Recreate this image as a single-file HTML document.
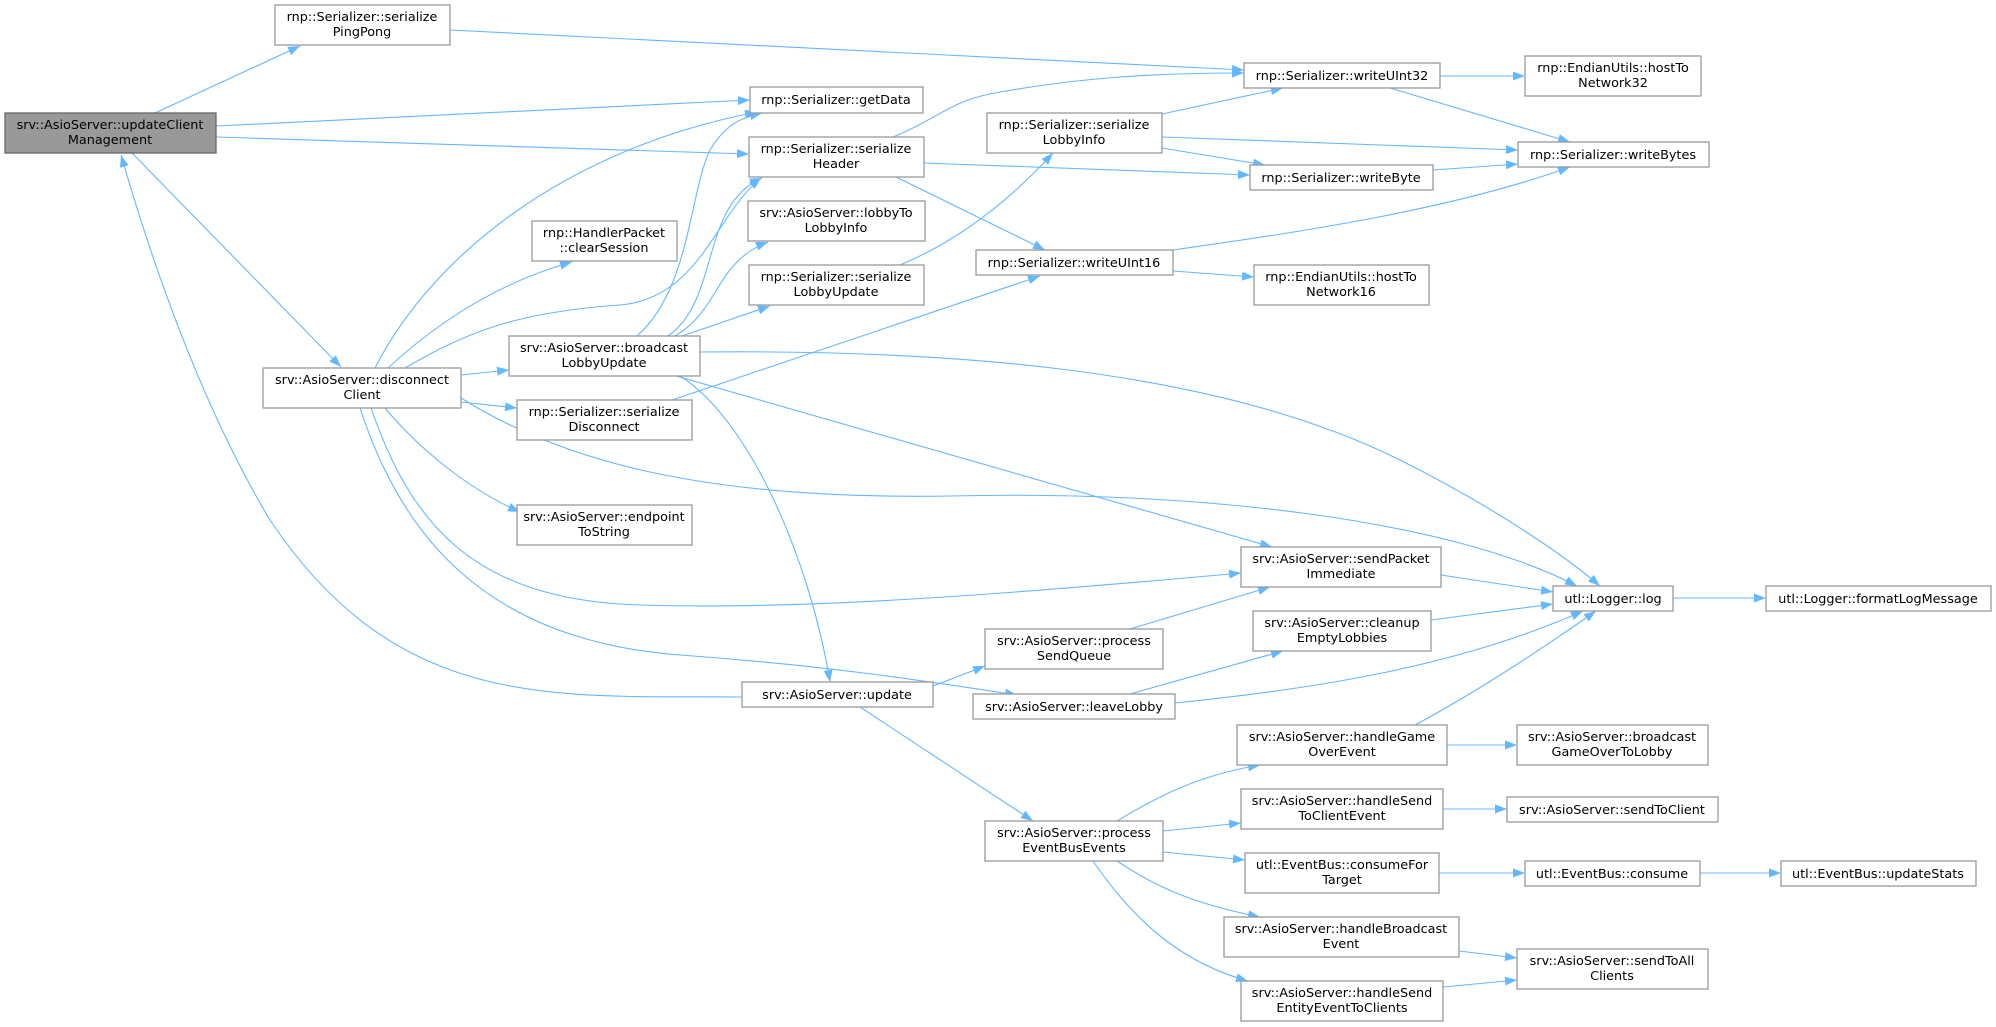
<!DOCTYPE html>
<html><head><meta charset="utf-8"><style>
html,body{margin:0;padding:0;background:#fff;}
svg{display:block;}
text{font-family:"DejaVu Sans","Liberation Sans",sans-serif;font-size:12.8px;fill:#000;}
.n{fill:#fff;stroke:#999;stroke-width:1.3;}
.g{fill:#999;stroke:#666;stroke-width:1.3;}
.e{fill:none;stroke:#63b8ff;stroke-width:1.1;}
</style></head><body>
<svg width="1996" height="1027" viewBox="0 0 1996 1027" xmlns="http://www.w3.org/2000/svg">
<defs><marker id="a" markerUnits="userSpaceOnUse" markerWidth="13" markerHeight="10" refX="12" refY="4.5" orient="auto"><path d="M0,0 L12,4.5 L0,9 z" fill="#63b8ff"/></marker></defs>
<g class="e" marker-end="url(#a)">
<path d="M155,113 L300,46"/>
<path d="M216,126 L750,100"/>
<path d="M216,137 L749,154"/>
<path d="M132,153 L341,367"/>
<path d="M742,697 C560,695 400,715 270,520 C210,420 160,290 121,155"/>
<path d="M375,368 C430,260 560,150 757,112"/>
<path d="M388,368 C440,320 500,282 572,262"/>
<path d="M405,368 C470,330 520,312 620,305 C700,298 715,215 761,178"/>
<path d="M461,375 L509,370"/>
<path d="M461,402 L517,408"/>
<path d="M385,408 C420,450 470,490 520,512"/>
<path d="M371,408 C410,520 470,600 640,605 C800,610 1000,595 1241,573"/>
<path d="M360,408 C400,530 480,640 680,655 C820,665 920,680 1017,695"/>
<path d="M461,398 C560,460 700,500 950,496 C1200,490 1450,520 1577,586"/>
<path d="M637,336 C690,290 690,190 710,150 C725,125 740,118 762,113"/>
<path d="M668,336 C720,300 700,205 762,178"/>
<path d="M675,336 C720,310 715,262 768,242"/>
<path d="M682,336 L770,306"/>
<path d="M672,400 L1040,276"/>
<path d="M700,352 C900,350 1200,360 1400,460 C1500,510 1570,560 1600,586"/>
<path d="M676,376 L1272,547"/>
<path d="M680,376 C750,420 810,560 830,682"/>
<path d="M893,137 C940,118 950,100 1000,92 C1080,78 1150,73 1244,73"/>
<path d="M924,163 L1250,175"/>
<path d="M896,177 L1045,250"/>
<path d="M900,265 C960,240 1010,200 1053,153"/>
<path d="M450,30 L1244,70"/>
<path d="M1162,114 L1283,88"/>
<path d="M1162,137 L1518,150"/>
<path d="M1162,148 L1265,165"/>
<path d="M1440,76 L1525,76"/>
<path d="M1390,88 L1570,142"/>
<path d="M1433,170 L1518,164"/>
<path d="M1173,250 C1300,232 1450,210 1570,167"/>
<path d="M1173,271 L1254,277"/>
<path d="M1441,575 L1553,592"/>
<path d="M1431,620 L1553,604"/>
<path d="M1673,598 L1766,598"/>
<path d="M1130,629 L1270,587"/>
<path d="M933,686 L985,666"/>
<path d="M860,707 L1033,821"/>
<path d="M1130,694 L1283,651"/>
<path d="M1175,703 C1300,690 1450,670 1583,611"/>
<path d="M1415,725 C1480,690 1540,650 1596,611"/>
<path d="M1447,745 L1517,745"/>
<path d="M1443,809 L1507,809"/>
<path d="M1117,821 C1160,795 1200,775 1260,765"/>
<path d="M1163,831 L1241,823"/>
<path d="M1163,852 L1245,860"/>
<path d="M1117,861 C1160,890 1200,905 1260,917"/>
<path d="M1093,861 C1140,930 1190,965 1248,981"/>
<path d="M1439,873 L1525,873"/>
<path d="M1700,873 L1781,873"/>
<path d="M1459,951 L1517,958"/>
<path d="M1443,987 L1517,980"/>
</g>
<g text-anchor="middle">
<rect class="g" x="5" y="113" width="211" height="40"/><text x="110" y="129">srv::AsioServer::updateClient</text><text x="110" y="144">Management</text>
<rect class="n" x="275" y="5" width="175" height="40"/><text x="362" y="21">rnp::Serializer::serialize</text><text x="362" y="36">PingPong</text>
<rect class="n" x="750" y="87" width="173" height="26"/><text x="836" y="104">rnp::Serializer::getData</text>
<rect class="n" x="749" y="137" width="175" height="40"/><text x="836" y="153">rnp::Serializer::serialize</text><text x="836" y="168">Header</text>
<rect class="n" x="532" y="221" width="145" height="40"/><text x="604" y="237">rnp::HandlerPacket</text><text x="604" y="252">::clearSession</text>
<rect class="n" x="263" y="368" width="198" height="40"/><text x="362" y="384">srv::AsioServer::disconnect</text><text x="362" y="399">Client</text>
<rect class="n" x="509" y="336" width="191" height="40"/><text x="604" y="352">srv::AsioServer::broadcast</text><text x="604" y="367">LobbyUpdate</text>
<rect class="n" x="748" y="201" width="177" height="40"/><text x="836" y="217">srv::AsioServer::lobbyTo</text><text x="836" y="232">LobbyInfo</text>
<rect class="n" x="749" y="265" width="175" height="40"/><text x="836" y="281">rnp::Serializer::serialize</text><text x="836" y="296">LobbyUpdate</text>
<rect class="n" x="517" y="400" width="175" height="40"/><text x="604" y="416">rnp::Serializer::serialize</text><text x="604" y="431">Disconnect</text>
<rect class="n" x="517" y="505" width="175" height="40"/><text x="604" y="521">srv::AsioServer::endpoint</text><text x="604" y="536">ToString</text>
<rect class="n" x="987" y="113" width="175" height="40"/><text x="1074" y="129">rnp::Serializer::serialize</text><text x="1074" y="144">LobbyInfo</text>
<rect class="n" x="976" y="250" width="197" height="25"/><text x="1074" y="267">rnp::Serializer::writeUInt16</text>
<rect class="n" x="1244" y="63" width="196" height="25"/><text x="1342" y="80">rnp::Serializer::writeUInt32</text>
<rect class="n" x="1525" y="56" width="176" height="40"/><text x="1613" y="72">rnp::EndianUtils::hostTo</text><text x="1613" y="87">Network32</text>
<rect class="n" x="1518" y="142" width="191" height="25"/><text x="1613" y="159">rnp::Serializer::writeBytes</text>
<rect class="n" x="1250" y="165" width="183" height="25"/><text x="1341" y="182">rnp::Serializer::writeByte</text>
<rect class="n" x="1254" y="265" width="175" height="40"/><text x="1341" y="281">rnp::EndianUtils::hostTo</text><text x="1341" y="296">Network16</text>
<rect class="n" x="1241" y="547" width="200" height="40"/><text x="1341" y="563">srv::AsioServer::sendPacket</text><text x="1341" y="578">Immediate</text>
<rect class="n" x="1553" y="586" width="120" height="25"/><text x="1613" y="603">utl::Logger::log</text>
<rect class="n" x="1766" y="586" width="225" height="25"/><text x="1878" y="603">utl::Logger::formatLogMessage</text>
<rect class="n" x="985" y="629" width="178" height="40"/><text x="1074" y="645">srv::AsioServer::process</text><text x="1074" y="660">SendQueue</text>
<rect class="n" x="1253" y="611" width="178" height="40"/><text x="1342" y="627">srv::AsioServer::cleanup</text><text x="1342" y="642">EmptyLobbies</text>
<rect class="n" x="742" y="682" width="191" height="25"/><text x="837" y="699">srv::AsioServer::update</text>
<rect class="n" x="973" y="694" width="202" height="25"/><text x="1074" y="711">srv::AsioServer::leaveLobby</text>
<rect class="n" x="1237" y="725" width="210" height="40"/><text x="1342" y="741">srv::AsioServer::handleGame</text><text x="1342" y="756">OverEvent</text>
<rect class="n" x="1517" y="725" width="191" height="40"/><text x="1612" y="741">srv::AsioServer::broadcast</text><text x="1612" y="756">GameOverToLobby</text>
<rect class="n" x="1241" y="789" width="202" height="40"/><text x="1342" y="805">srv::AsioServer::handleSend</text><text x="1342" y="820">ToClientEvent</text>
<rect class="n" x="1507" y="797" width="211" height="25"/><text x="1612" y="814">srv::AsioServer::sendToClient</text>
<rect class="n" x="985" y="821" width="178" height="40"/><text x="1074" y="837">srv::AsioServer::process</text><text x="1074" y="852">EventBusEvents</text>
<rect class="n" x="1245" y="853" width="194" height="40"/><text x="1342" y="869">utl::EventBus::consumeFor</text><text x="1342" y="884">Target</text>
<rect class="n" x="1525" y="861" width="175" height="25"/><text x="1612" y="878">utl::EventBus::consume</text>
<rect class="n" x="1781" y="861" width="195" height="25"/><text x="1878" y="878">utl::EventBus::updateStats</text>
<rect class="n" x="1224" y="917" width="235" height="40"/><text x="1341" y="933">srv::AsioServer::handleBroadcast</text><text x="1341" y="948">Event</text>
<rect class="n" x="1517" y="949" width="191" height="40"/><text x="1612" y="965">srv::AsioServer::sendToAll</text><text x="1612" y="980">Clients</text>
<rect class="n" x="1241" y="981" width="202" height="40"/><text x="1342" y="997">srv::AsioServer::handleSend</text><text x="1342" y="1012">EntityEventToClients</text>
</g>
</svg>
</body></html>
